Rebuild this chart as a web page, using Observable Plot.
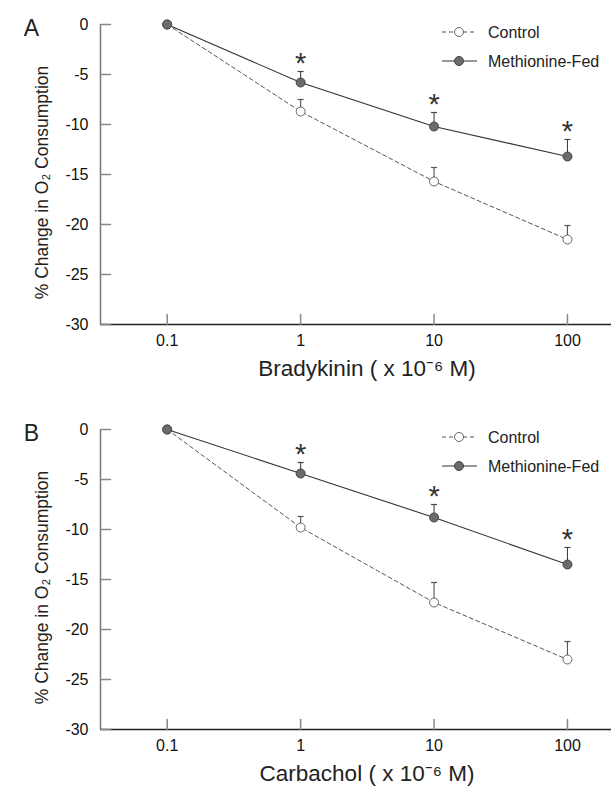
<!DOCTYPE html>
<html><head><meta charset="utf-8">
<script src="https://cdn.jsdelivr.net/npm/d3@7"></script>
<script src="https://cdn.jsdelivr.net/npm/@observablehq/plot@0.6"></script>
<style>
body{margin:0;background:#fff;font-family:"Liberation Sans",Arial,Helvetica,sans-serif;}
#wrap{position:relative;width:611px;height:787px;overflow:hidden;background:#fff;}
.panel{position:absolute;left:0;width:611px;height:395px;}
.legend{position:absolute;left:436px;top:20px;}
</style></head><body><div id="wrap"></div>
<script>
// ---- data ----
const concentrations = [0.1, 1, 10, 100];
const xTickLabels = ["0.1", "1", "10", "100"];
const yTicks = [0, -5, -10, -15, -20, -25, -30];
const seriesNames = ["Control", "Methionine-Fed"];
const panelLetters = ["A", "B"];
const agents = ["Bradykinin", "Carbachol"];

const bradyControl   = [0, -8.7, -15.7, -21.5];
const bradyControlSE = [0, 1.2, 1.4, 1.4];
const bradyMet       = [0, -5.8, -10.2, -13.2];
const bradyMetSE     = [0, 1.1, 1.4, 1.7];

const carbControl    = [0, -9.8, -17.3, -23.0];
const carbControlSE  = [0, 1.1, 2.0, 1.8];
const carbMet        = [0, -4.4, -8.8, -13.5];
const carbMetSE      = [0, 1.1, 1.3, 1.7];

const significant = [false, true, true, true];

// ---- drawing ----
const FONT = '"Liberation Sans", Arial, Helvetica, sans-serif';
const xDomain = [Math.pow(10, -1.5), Math.pow(10, 2.33)];
const capSymbol = {draw(ctx) { ctx.moveTo(-3, 0); ctx.lineTo(3, 0); }};
const tickShape = {draw(ctx, l) { ctx.moveTo(0, 0); ctx.lineTo(0, -l); }};

function rowsOf(vals, ses, name) {
  return concentrations.map((x, i) => ({x, y: vals[i], se: ses[i], sig: significant[i], series: name}));
}

function panel(letter, agent, control, controlSE, met, metSE) {
  const c = rowsOf(control, controlSE, seriesNames[0]);
  const m = rowsOf(met, metSE, seriesNames[1]);
  return Plot.plot({
    width: 611, height: 395,
    marginTop: 24, marginBottom: 71, marginLeft: 100, marginRight: 0,
    style: {fontFamily: FONT, fontSize: "16px", color: "#111", background: "white", overflow: "visible"},
    x: {type: "log", domain: xDomain},
    y: {domain: [-30, 0]},
    marks: [
      // axes lines
      Plot.ruleX([xDomain[0]], {y1: 0, y2: -30, stroke: "#777", strokeWidth: 1.5}),
      Plot.ruleY([-30], {stroke: "#222", strokeWidth: 1.5}),
      // inward ticks
      Plot.vector(yTicks, {y: d => d, frameAnchor: "left", length: 10, rotate: 90, anchor: "start", shape: tickShape, stroke: "#888", strokeWidth: 1.5}),
      Plot.vector(concentrations, {x: d => d, frameAnchor: "bottom", length: 10, rotate: 0, anchor: "start", shape: tickShape, stroke: "#888", strokeWidth: 1.5}),
      // tick labels
      Plot.axisY({ticks: yTicks, tickFormat: d => String(d), tickSize: 0, tickPadding: 12, label: null, fontSize: 16, fill: "#111"}),
      Plot.axisX({ticks: concentrations, tickFormat: d => xTickLabels[concentrations.indexOf(d)], tickSize: 0, tickPadding: 10, label: null, fontSize: 16, fill: "#111"}),
      // titles
      Plot.text([`% Change in O\u2082 Consumption`], {frameAnchor: "left", textAnchor: "middle", lineAnchor: "middle", rotate: -90, dx: -58, dy: 8, fontSize: 17.5, fill: "#222"}),
      Plot.text([`${agent} ( x 10\u207B\u2076 M)`], {frameAnchor: "bottom", textAnchor: "middle", lineAnchor: "middle", dx: 11, dy: 44, fontSize: 22.5, fill: "#222"}),
      Plot.text([letter], {frameAnchor: "top-left", textAnchor: "middle", lineAnchor: "middle", dx: -69, dy: 4, fontSize: 23, fill: "#222"}),
      // lines
      Plot.line(c, {x: "x", y: "y", stroke: "#555", strokeWidth: 1, strokeDasharray: "4,3"}),
      Plot.line(m, {x: "x", y: "y", stroke: "#333", strokeWidth: 1.1}),
      // error bars (upward SE)
      Plot.ruleX(c.filter(d => d.se > 0), {x: "x", y1: "y", y2: d => d.y + d.se, stroke: "#555", strokeWidth: 1.1}),
      Plot.ruleX(m.filter(d => d.se > 0), {x: "x", y1: "y", y2: d => d.y + d.se, stroke: "#444", strokeWidth: 1.1}),
      Plot.dot(c.filter(d => d.se > 0), {x: "x", y: d => d.y + d.se, symbol: capSymbol, fill: "none", stroke: "#555", strokeWidth: 1.2}),
      Plot.dot(m.filter(d => d.se > 0), {x: "x", y: d => d.y + d.se, symbol: capSymbol, fill: "none", stroke: "#444", strokeWidth: 1.2}),
      // markers
      Plot.dot(c, {x: "x", y: "y", r: 4.5, fill: "white", stroke: "#666", strokeWidth: 1}),
      Plot.dot(m, {x: "x", y: "y", r: 4.5, fill: "#6b6b6b", stroke: "#444", strokeWidth: 1}),
      // significance
      Plot.text(m.filter(d => d.sig), {x: "x", y: d => d.y + d.se, text: () => "*", fontSize: 29, dy: -8, fill: "#333"})
    ]
  });
}

function legend() {
  const ns = "http://www.w3.org/2000/svg";
  const svg = document.createElementNS(ns, "svg");
  svg.setAttribute("width", 175); svg.setAttribute("height", 56);
  svg.setAttribute("class", "legend");
  const rows = [
    {y: 12, dash: "4,3", stroke: "#555", fill: "white", cstroke: "#666"},
    {y: 41, dash: null, stroke: "#333", fill: "#6b6b6b", cstroke: "#444"}
  ];
  rows.forEach((r, i) => {
    const l = document.createElementNS(ns, "line");
    l.setAttribute("x1", 6); l.setAttribute("x2", 41); l.setAttribute("y1", r.y); l.setAttribute("y2", r.y);
    l.setAttribute("stroke", r.stroke); l.setAttribute("stroke-width", 1.1);
    if (r.dash) l.setAttribute("stroke-dasharray", r.dash);
    svg.appendChild(l);
    const c = document.createElementNS(ns, "circle");
    c.setAttribute("cx", 23); c.setAttribute("cy", r.y); c.setAttribute("r", 4.5);
    c.setAttribute("fill", r.fill); c.setAttribute("stroke", r.cstroke);
    svg.appendChild(c);
    const t = document.createElementNS(ns, "text");
    t.setAttribute("x", 52); t.setAttribute("y", r.y); t.setAttribute("dy", "0.35em");
    t.setAttribute("font-size", 16); t.setAttribute("font-family", FONT); t.setAttribute("fill", "#222");
    t.textContent = seriesNames[i];
    svg.appendChild(t);
  });
  return svg;
}

const wrap = document.getElementById("wrap");
const data = [
  [bradyControl, bradyControlSE, bradyMet, bradyMetSE],
  [carbControl, carbControlSE, carbMet, carbMetSE]
];
[0, 405].forEach((top, k) => {
  const div = document.createElement("div");
  div.className = "panel";
  div.style.top = top + "px";
  div.appendChild(panel(panelLetters[k], agents[k], ...data[k]));
  div.appendChild(legend());
  wrap.appendChild(div);
});
</script></body></html>
